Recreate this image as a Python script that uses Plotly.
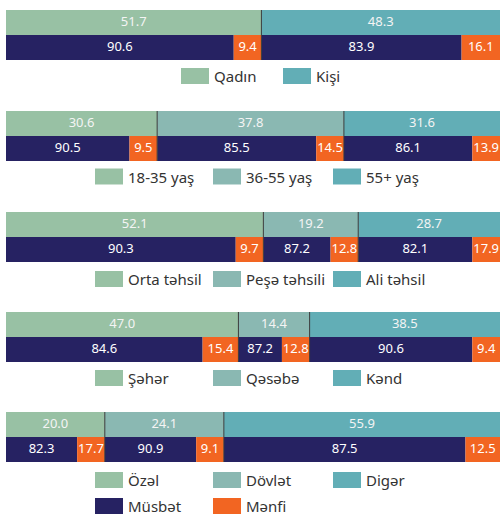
import plotly.graph_objects as go

# ---------------- data ----------------
group_labels = [
    ["Qadın", "Kişi"],
    ["18-35 yaş", "36-55 yaş", "55+ yaş"],
    ["Orta təhsil", "Peşə təhsili", "Ali təhsil"],
    ["Şəhər", "Qəsəbə", "Kənd"],
    ["Özəl", "Dövlət", "Digər"],
]
shares = [
    [51.7, 48.3],
    [30.6, 37.8, 31.6],
    [52.1, 19.2, 28.7],
    [47.0, 14.4, 38.5],
    [20.0, 24.1, 55.9],
]
positive = [
    [90.6, 83.9],
    [90.5, 85.5, 86.1],
    [90.3, 87.2, 82.1],
    [84.6, 87.2, 90.6],
    [82.3, 90.9, 87.5],
]
negative = [
    [9.4, 16.1],
    [9.5, 14.5, 13.9],
    [9.7, 12.8, 17.9],
    [15.4, 12.8, 9.4],
    [17.7, 9.1, 12.5],
]
outcome_labels = ["Müsbət", "Mənfi"]

# ---------------- style ----------------
W, H = 501, 515
GREEN, MID, TEAL = "#98C1A4", "#8AB8B2", "#62AEB6"
NAVY, ORANGE = "#262262", "#F26522"
FONT = "Noto Sans"
MIN_NEG = 5.6          # minimum drawn width of the orange part so its label fits
bar_tops = [10, 111, 212, 312, 412]   # px
bar_h = 50
x_left, x_right = 6, 500
legend_rows = [76, 176.5, 279, 378, 480]
legend_x3 = [95, 213, 333]
legend_x2 = [181, 283]
sw_w, sw_h = 28, 16

fig = go.Figure()
shapes, annotations = [], []

def px_x(x):
    return x / W

def px_y(y):
    return 1 - y / H

for g in range(5):
    n = g + 1
    xa = "x" if n == 1 else f"x{n}"
    ya = "y" if n == 1 else f"y{n}"
    s = shares[g]
    k = len(s)
    cols = [GREEN, TEAL] if k == 2 else [GREEN, MID, TEAL]
    total = sum(s)
    starts = [sum(s[:i]) for i in range(k)]

    # top bar: group shares
    fig.add_trace(go.Bar(
        orientation="h", x=s, y=[1] * k, base=starts, width=1,
        marker=dict(color=cols, line=dict(width=0)),
        xaxis=xa, yaxis=ya, hoverinfo="skip"))
    fig.add_trace(go.Scatter(
        mode="text", x=[starts[i] + s[i] / 2 for i in range(k)], y=[1] * k,
        text=[f"{v:.1f}" for v in s],
        textfont=dict(family=FONT, size=13, color="#F4F4F4"),
        xaxis=xa, yaxis=ya, hoverinfo="skip"))

    # bottom bar: positive / negative inside each share
    neg_w = [max(s[i] * negative[g][i] / 100, MIN_NEG) for i in range(k)]
    pos_w = [s[i] - neg_w[i] for i in range(k)]
    neg_start = [starts[i] + pos_w[i] for i in range(k)]
    fig.add_trace(go.Bar(
        orientation="h", x=pos_w, y=[0] * k, base=starts, width=1,
        marker=dict(color=NAVY, line=dict(width=0)),
        xaxis=xa, yaxis=ya, hoverinfo="skip"))
    fig.add_trace(go.Bar(
        orientation="h", x=neg_w, y=[0] * k, base=neg_start, width=1,
        marker=dict(color=ORANGE, line=dict(width=0)),
        xaxis=xa, yaxis=ya, hoverinfo="skip"))
    fig.add_trace(go.Scatter(
        mode="text",
        x=[starts[i] + pos_w[i] / 2 for i in range(k)] + [neg_start[i] + neg_w[i] / 2 for i in range(k)],
        y=[0] * (2 * k),
        text=[f"{v:.1f}" for v in positive[g]] + [f"{v:.1f}" for v in negative[g]],
        textfont=dict(family=FONT, size=13, color="#FFFFFF"),
        xaxis=xa, yaxis=ya, hoverinfo="skip"))

    # separators between shares
    for i in range(1, k):
        shapes.append(dict(type="line", xref=xa, yref=ya, x0=starts[i], x1=starts[i],
                           y0=-0.5, y1=1.5, line=dict(color="#3a3a3a", width=1)))

    top = bar_tops[g]
    fig.layout[f"xaxis{n}" if n > 1 else "xaxis"] = dict(
        domain=[px_x(x_left), px_x(x_right)], range=[0, total], visible=False,
        fixedrange=True, anchor=ya)
    fig.layout[f"yaxis{n}" if n > 1 else "yaxis"] = dict(
        domain=[px_y(top + bar_h), px_y(top)], range=[-0.5, 1.5], visible=False,
        fixedrange=True, anchor=xa)

    # legend
    xs = legend_x2 if k == 2 else legend_x3
    rows = [(legend_rows[g], group_labels[g], cols)]
    if g == 4:
        rows.append((legend_rows[g] + 26, outcome_labels, [NAVY, ORANGE]))
    for yc, labs, cs in rows:
        for i, lab in enumerate(labs):
            x0 = xs[i]
            shapes.append(dict(type="rect", xref="paper", yref="paper",
                               x0=px_x(x0), x1=px_x(x0 + sw_w),
                               y0=px_y(yc + sw_h / 2), y1=px_y(yc - sw_h / 2),
                               fillcolor=cs[i], line=dict(width=0)))
            annotations.append(dict(xref="paper", yref="paper", x=px_x(x0 + sw_w + 3),
                                    y=px_y(yc), text=lab, showarrow=False,
                                    xanchor="left", yanchor="middle",
                                    font=dict(family=FONT, size=15, color="#333333")))

fig.update_layout(
    width=W, height=H, margin=dict(l=0, r=0, t=0, b=0),
    paper_bgcolor="white", plot_bgcolor="rgba(0,0,0,0)",
    showlegend=False, barmode="overlay",
    shapes=shapes, annotations=annotations,
)

fig.write_html(
    "out.html",
    config={"displayModeBar": False},
    post_script="document.body.style.margin='0';document.body.style.overflow='hidden';",
)
